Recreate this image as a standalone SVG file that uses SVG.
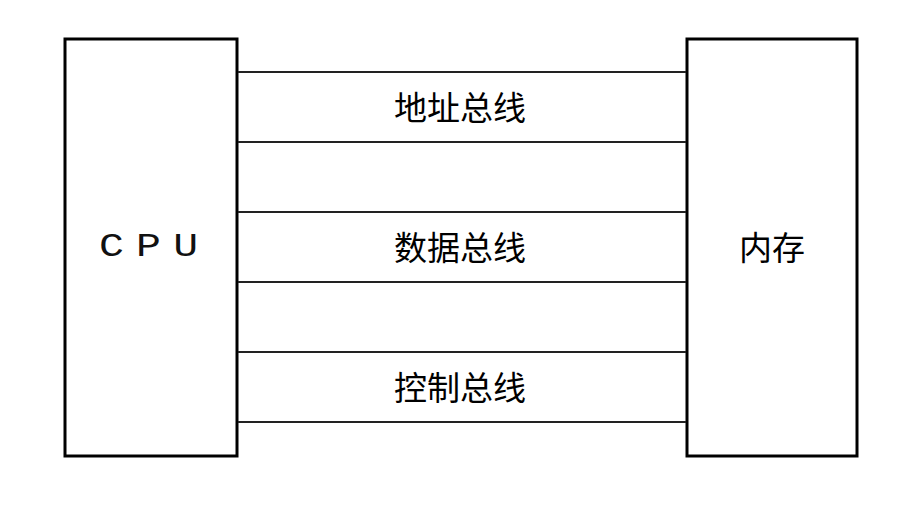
<svg xmlns="http://www.w3.org/2000/svg" width="921" height="511" viewBox="0 0 921 511">
<style>
.box{fill:#fff;stroke:#000;stroke-width:3}
.bus{stroke:#222;stroke-width:2;fill:none}
.cjk{font-family:"Noto Sans CJK SC","Noto Sans",sans-serif;font-size:33px;fill:#000;text-anchor:middle}
.lat{font-family:"Liberation Mono","DejaVu Sans Mono",monospace;font-size:34px;fill:#111;letter-spacing:10px}
</style>
<rect width="921" height="511" fill="#fff"/>
<g id="cpu">
<rect class="box" x="65" y="39" width="172" height="417"/>
<text class="lat" transform="translate(99,256) scale(1.22,1)" x="0" y="0">CPU</text>
</g>
<g id="memory">
<rect class="box" x="687" y="39" width="170" height="417"/>
<text class="cjk" x="772" y="260">内存</text>
</g>
<g id="connectors">
<line class="bus" x1="238" y1="72" x2="686" y2="72"/>
<line class="bus" x1="238" y1="142" x2="686" y2="142"/>
<line class="bus" x1="238" y1="212" x2="686" y2="212"/>
<line class="bus" x1="238" y1="282" x2="686" y2="282"/>
<line class="bus" x1="238" y1="352" x2="686" y2="352"/>
<line class="bus" x1="238" y1="422" x2="686" y2="422"/>
</g>
<g id="labels">
<text class="cjk" x="460" y="120">地址总线</text>
<text class="cjk" x="460" y="260">数据总线</text>
<text class="cjk" x="460" y="400">控制总线</text>
</g>
</svg>
